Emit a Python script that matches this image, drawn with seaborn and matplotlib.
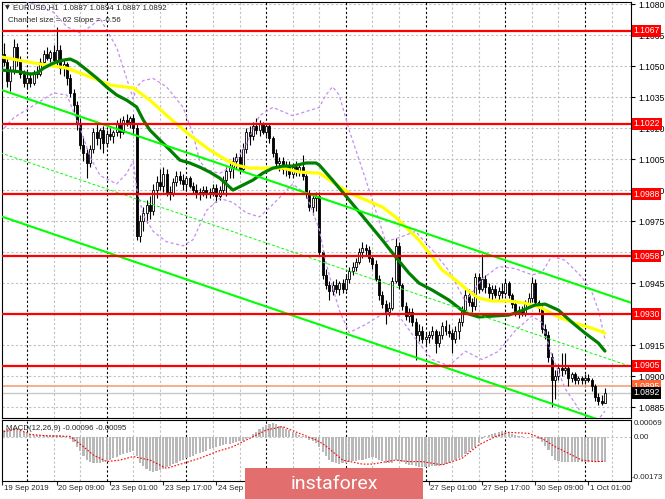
import numpy as np
import matplotlib
matplotlib.use('Agg')
import matplotlib.pyplot as plt
from matplotlib.patches import Rectangle
import seaborn as sns

# EURUSD H1 candles, bar 0 = 19 Sep 16:00
opens = [
    1.1052, 1.1056, 1.1052, 1.1043, 1.1048, 1.1059, 1.1053, 1.1046, 1.1042, 1.1044,
    1.1042, 1.1047, 1.1046, 1.1052, 1.1056, 1.1054, 1.1057, 1.1053, 1.1058, 1.1049,
    1.1051, 1.1044, 1.1037, 1.1031, 1.1022, 1.1012, 1.1008, 1.1003, 1.1010, 1.1018,
    1.1015, 1.1019, 1.1013, 1.1017, 1.1016, 1.1018, 1.1022, 1.1018, 1.1024, 1.1023,
    1.1025, 1.1020, 1.0968, 1.0975, 1.0979, 1.0983, 1.0980, 1.0990, 1.0994, 1.0992,
    1.0998, 1.0989, 1.0988, 1.0994, 1.0997, 1.0995, 1.0993, 1.0996, 1.0992, 1.0990,
    1.0988, 1.0989, 1.0990, 1.0988, 1.0989, 1.0991, 1.0987, 1.0990, 1.0995, 1.0999,
    1.1001, 1.1004, 1.1006, 1.1000, 1.1010, 1.1018, 1.1016, 1.1021, 1.1019, 1.1022,
    1.1018, 1.1021, 1.1015, 1.1008, 1.1003, 1.1004, 1.1000, 1.1002, 1.0998, 1.1001,
    1.0999, 1.1001, 1.0997, 1.0988, 1.0982, 1.0986, 1.0987, 1.0960, 1.0949, 1.0944,
    1.0941, 1.0944, 1.0942, 1.0945, 1.0942, 1.0947, 1.0951, 1.0953, 1.0955, 1.0960,
    1.0962, 1.0961, 1.0957, 1.0954, 1.0947, 1.0939, 1.0935, 1.0931, 1.0933, 1.0946,
    1.0963, 1.0944, 1.0934, 1.0929, 1.0931, 1.0926, 1.0920, 1.0922, 1.0918, 1.0919,
    1.0920, 1.0922, 1.0916, 1.0920, 1.0924, 1.0922, 1.0921, 1.0918, 1.0922, 1.0926,
    1.0932, 1.0939, 1.0936, 1.0934, 1.0948, 1.0942, 1.0947, 1.0943, 1.0940, 1.0942,
    1.0939, 1.0941, 1.0940, 1.0945, 1.0939, 1.0935, 1.0931, 1.0932, 1.0930, 1.0935,
    1.0938, 1.0945, 1.0936, 1.0933, 1.0923, 1.0920, 1.0909, 1.0898, 1.0900, 1.0904,
    1.0903, 1.0904, 1.0899, 1.0901, 1.0898, 1.0899, 1.0898, 1.0899, 1.0898, 1.0895,
    1.0890, 1.0888, 1.0887]
highs = [
    1.1058, 1.1061, 1.1054, 1.1050, 1.1063, 1.1061, 1.1055, 1.1048, 1.1046, 1.1047,
    1.1048, 1.1050, 1.1054, 1.1058, 1.1059, 1.1058, 1.1060, 1.1069, 1.1060, 1.1053,
    1.1052, 1.1046, 1.1039, 1.1033, 1.1025, 1.1016, 1.1010, 1.1012, 1.1020, 1.1022,
    1.1020, 1.1021, 1.1019, 1.1020, 1.1019, 1.1024, 1.1025, 1.1026, 1.1027, 1.1026,
    1.1027, 1.1022, 1.0978, 1.0982, 1.0985, 1.0987, 1.0993, 1.0997, 1.1000, 1.1001,
    1.1000, 1.0992, 1.0996, 1.0999, 1.0999, 1.0998, 1.0997, 1.0997, 1.0994, 1.0993,
    1.0991, 1.0992, 1.0992, 1.0991, 1.0993, 1.0993, 1.0992, 1.0997, 1.1001, 1.1003,
    1.1006, 1.1008, 1.1010, 1.1013, 1.1020, 1.1021, 1.1023, 1.1025, 1.1024, 1.1023,
    1.1022, 1.1022, 1.1016, 1.1010, 1.1006, 1.1006, 1.1004, 1.1004, 1.1003, 1.1004,
    1.1003, 1.1007, 1.0998, 1.0990, 1.0988, 1.0989, 1.0989, 1.0961, 1.0952, 1.0946,
    1.0946, 1.0947, 1.0946, 1.0947, 1.0949, 1.0953, 1.0955, 1.0957, 1.0962, 1.0965,
    1.0964, 1.0963, 1.0958, 1.0956, 1.0949, 1.0941, 1.0937, 1.0936, 1.0948, 1.0967,
    1.0965, 1.0945, 1.0936, 1.0933, 1.0933, 1.0928, 1.0925, 1.0924, 1.0921, 1.0922,
    1.0924, 1.0923, 1.0922, 1.0926, 1.0927, 1.0925, 1.0923, 1.0924, 1.0928, 1.0934,
    1.0942, 1.0942, 1.0938, 1.0950, 1.0950, 1.0959, 1.0949, 1.0945, 1.0944, 1.0944,
    1.0943, 1.0945, 1.0947, 1.0946, 1.0940, 1.0937, 1.0934, 1.0934, 1.0937, 1.0940,
    1.0948, 1.0947, 1.0937, 1.0934, 1.0925, 1.0922, 1.0911, 1.0903, 1.0906, 1.0911,
    1.0911, 1.0905, 1.0902, 1.0902, 1.0900, 1.0900, 1.0901, 1.0901, 1.0899, 1.0896,
    1.0892, 1.0891, 1.0894]
lows = [
    1.1048, 1.1050, 1.1040, 1.1038, 1.1046, 1.1050, 1.1044, 1.1040, 1.1039, 1.1040,
    1.1041, 1.1044, 1.1045, 1.1050, 1.1053, 1.1052, 1.1051, 1.1050, 1.1046, 1.1045,
    1.1041, 1.1035, 1.1028, 1.1019, 1.1010, 1.1004, 1.0996, 1.1001, 1.1008, 1.1012,
    1.1010, 1.1008, 1.1011, 1.1014, 1.1013, 1.1016, 1.1015, 1.1017, 1.1021, 1.1020,
    1.1017, 1.0966, 1.0965, 1.0970, 1.0974, 1.0976, 1.0978, 1.0986, 1.0990, 1.0989,
    1.0987, 1.0985, 1.0987, 1.0992, 1.0993, 1.0990, 1.0990, 1.0991, 1.0988, 1.0986,
    1.0985, 1.0987, 1.0986, 1.0986, 1.0987, 1.0984, 1.0985, 1.0988, 1.0987, 1.0996,
    1.0996, 1.1000, 1.0998, 1.0999, 1.1008, 1.1012, 1.1014, 1.1017, 1.1016, 1.1017,
    1.1016, 1.1013, 1.1006, 1.1001, 1.0999, 1.0998, 1.0997, 1.0996, 1.0996, 1.0997,
    1.0997, 1.0995, 1.0986, 1.0980, 1.0978, 1.0980, 1.0958, 1.0947, 1.0942, 1.0937,
    1.0939, 1.0940, 1.0939, 1.0940, 1.0941, 1.0945, 1.0949, 1.0951, 1.0954, 1.0957,
    1.0958, 1.0955, 1.0952, 1.0946, 1.0937, 1.0933, 1.0925, 1.0929, 1.0932, 1.0945,
    1.0942, 1.0932, 1.0927, 1.0926, 1.0924, 1.0908, 1.0917, 1.0916, 1.0915, 1.0916,
    1.0918, 1.0911, 1.0914, 1.0918, 1.0920, 1.0919, 1.0911, 1.0916, 1.0918, 1.0924,
    1.0930, 1.0934, 1.0931, 1.0932, 1.0940, 1.0941, 1.0940, 1.0938, 1.0937, 1.0938,
    1.0937, 1.0938, 1.0939, 1.0938, 1.0933, 1.0929, 1.0928, 1.0929, 1.0929, 1.0933,
    1.0936, 1.0934, 1.0931, 1.0921, 1.0918, 1.0907, 1.0885, 1.0889, 1.0898, 1.0900,
    1.0901, 1.0895, 1.0897, 1.0896, 1.0896, 1.0896, 1.0896, 1.0897, 1.0893, 1.0888,
    1.0886, 1.0886, 1.0887]
closes = [
    1.1056, 1.1052, 1.1043, 1.1048, 1.1059, 1.1053, 1.1046, 1.1042, 1.1044, 1.1042,
    1.1047, 1.1046, 1.1052, 1.1056, 1.1054, 1.1057, 1.1053, 1.1058, 1.1049, 1.1051,
    1.1044, 1.1037, 1.1031, 1.1022, 1.1012, 1.1008, 1.1003, 1.1010, 1.1018, 1.1015,
    1.1019, 1.1013, 1.1017, 1.1016, 1.1018, 1.1022, 1.1018, 1.1024, 1.1023, 1.1025,
    1.1020, 1.0968, 1.0975, 1.0979, 1.0983, 1.0980, 1.0990, 1.0994, 1.0992, 1.0998,
    1.0989, 1.0988, 1.0994, 1.0997, 1.0995, 1.0993, 1.0996, 1.0992, 1.0990, 1.0988,
    1.0989, 1.0990, 1.0988, 1.0989, 1.0991, 1.0987, 1.0990, 1.0995, 1.0999, 1.1001,
    1.1004, 1.1006, 1.1000, 1.1010, 1.1018, 1.1016, 1.1021, 1.1019, 1.1022, 1.1018,
    1.1021, 1.1015, 1.1008, 1.1003, 1.1004, 1.1000, 1.1002, 1.0998, 1.1001, 1.0999,
    1.1001, 1.0997, 1.0988, 1.0982, 1.0986, 1.0987, 1.0960, 1.0949, 1.0944, 1.0941,
    1.0944, 1.0942, 1.0945, 1.0942, 1.0947, 1.0951, 1.0953, 1.0955, 1.0960, 1.0962,
    1.0961, 1.0957, 1.0954, 1.0947, 1.0939, 1.0935, 1.0931, 1.0933, 1.0946, 1.0963,
    1.0944, 1.0934, 1.0929, 1.0931, 1.0926, 1.0920, 1.0922, 1.0918, 1.0919, 1.0920,
    1.0922, 1.0916, 1.0920, 1.0924, 1.0922, 1.0921, 1.0918, 1.0922, 1.0926, 1.0932,
    1.0939, 1.0936, 1.0934, 1.0948, 1.0942, 1.0947, 1.0943, 1.0940, 1.0942, 1.0939,
    1.0941, 1.0940, 1.0945, 1.0939, 1.0935, 1.0931, 1.0932, 1.0930, 1.0935, 1.0938,
    1.0945, 1.0936, 1.0933, 1.0923, 1.0920, 1.0909, 1.0898, 1.0900, 1.0904, 1.0903,
    1.0904, 1.0899, 1.0901, 1.0898, 1.0899, 1.0898, 1.0899, 1.0898, 1.0895, 1.0890,
    1.0888, 1.0887, 1.0892]

# moving averages (bar index, price)
ma_green_x = [0, 3, 6, 9, 11, 13, 16, 19, 21, 23, 26, 29, 32, 35, 38, 41, 43, 45, 48,
              51, 54, 57, 60, 63, 66, 70, 73, 76, 79, 82, 85, 88, 92, 95, 96, 100, 105,
              110, 115, 119, 123, 126, 130, 135, 140, 144, 148, 153, 156, 161, 164, 168,
              172, 176, 180, 182]
ma_green = [1.10481, 1.10477, 1.10472, 1.10461, 1.10466, 1.10490, 1.10515, 1.10529,
            1.10534, 1.10519, 1.10481, 1.10442, 1.10398, 1.10360, 1.10335, 1.10302,
            1.10239, 1.10190, 1.10142, 1.10094, 1.10045, 1.10031, 1.10011, 1.09987,
            1.09958, 1.09900, 1.09924, 1.09948, 1.09982, 1.10006, 1.10016, 1.10016,
            1.10031, 1.10031, 1.10021, 1.09948, 1.09852, 1.09755, 1.09658, 1.09576,
            1.09498, 1.09450, 1.09416, 1.09368, 1.09305, 1.09286, 1.09290, 1.09295,
            1.09310, 1.09344, 1.09348, 1.09319, 1.09261, 1.09208, 1.09160, 1.09121]
ma_yellow_x = [0, 10, 20, 27, 33, 40, 45, 51, 57, 63, 68, 71, 75, 85, 90, 96, 100, 105,
               110, 115, 119, 123, 126, 130, 133, 137, 141, 144, 148, 153, 158, 163,
               168, 173, 178, 182]
ma_yellow = [1.10545, 1.10515, 1.10490, 1.10448, 1.10408, 1.10394, 1.10335, 1.10248,
             1.10166, 1.10094, 1.10045, 1.10021, 1.10006, 1.10006, 1.09987, 1.09982,
             1.09939, 1.09886, 1.09852, 1.09818, 1.09769, 1.09706, 1.09658, 1.09576,
             1.09513, 1.09465, 1.09411, 1.09377, 1.09363, 1.09363, 1.09353, 1.09329,
             1.09286, 1.09256, 1.09232, 1.09208]

# bollinger bands
bb_x = [0, 4, 8, 12, 16, 20, 24, 27, 30, 35, 38, 40, 41, 43, 46, 50, 55, 58, 60, 62,
        66, 70, 74, 78, 82, 88, 92, 96, 98, 100, 102, 105, 110, 116, 120, 125, 130,
        135, 140, 145, 150, 155, 160, 163, 166, 170, 175, 178, 180, 182]
bb_upper = [1.1088, 1.1084, 1.1081, 1.1079, 1.1076, 1.1069, 1.1066, 1.1069, 1.1073,
            1.1059, 1.1044, 1.1034, 1.1040, 1.1043, 1.1044, 1.1040, 1.1030, 1.1017,
            1.1004, 1.1000, 1.0998, 1.1002, 1.1012, 1.1026, 1.1030, 1.1026, 1.1028,
            1.1030, 1.1036, 1.1040, 1.1036, 1.1019, 1.0995, 1.0965, 1.0967, 1.0970,
            1.0961, 1.0951, 1.0936, 1.0947, 1.0953, 1.0952, 1.0949, 1.0950, 1.0958,
            1.0956, 1.0948, 1.0941, 1.0932, 1.0918]
bb_lower = [1.1018, 1.1025, 1.1029, 1.1033, 1.1037, 1.1036, 1.1020, 1.1006, 1.0997,
            1.0993, 1.0998, 1.1004, 1.0991, 1.0978, 1.0970, 1.0965, 1.0963, 1.0966,
            1.0973, 1.0980, 1.0986, 1.0984, 1.0979, 1.0977, 1.0983, 1.0993, 1.0988,
            1.0971, 1.0955, 1.0943, 1.0932, 1.0921, 1.0925, 1.0931, 1.0929, 1.0918,
            1.0908, 1.0905, 1.0912, 1.0908, 1.0912, 1.0922, 1.0929, 1.0926, 1.0910,
            1.0894, 1.0882, 1.0879, 1.0879, 1.0883]

# regression channel, values at both ends
chan_x = [0, 190]
chan_upper = [1.10386, 1.09354]
chan_mid = [1.10080, 1.09045]
chan_lower = [1.09774, 1.08735]

levels = [1.1067, 1.1022, 1.0988, 1.0958, 1.0930, 1.0905]
pivot = 1.0895
bid = 1.0892
# scale labels; 1.0930 sits fully under its level box, so it is not printed
price_ticks = [1.1080, 1.1065, 1.1050, 1.1035, 1.1020, 1.1005, 1.0990, 1.0975,
               1.0960, 1.0945, 1.0930, 1.0915, 1.0900, 1.0885]
hidden_ticks = [1.0930]

# MACD(12,26,9) main histogram, in 1e-5
macd_hist = [
    28, 31, 33, 34, 33, 30, 25, 20, 15,
    12, 10, 8, 8, 9, 10, 10, 10, 10, 8, 5, 2,
    -5, -20, -37, -55, -72, -88, -98, -103, -103, -100,
    -97, -93, -88, -82, -76, -71, -66, -61, -57, -55,
    -75, -100, -115, -125, -132, -136, -135, -130,
    -125, -118, -112, -106, -100, -94, -88, -82,
    -77, -72, -67, -63, -58, -53, -48, -42, -37, -34, -31, -28, -26, -24, -20, -16, -13, -8,
    0, 12, 22, 32, 42, 50, 55, 56, 52,
    46, 40, 34, 28, 22, 16, 10,
    4, -2, -10, -16, -22, -40, -58, -75, -90,
    -98, -102, -104,
    -103, -100, -97, -95, -93, -91, -89, -85, -80, -78,
    -82, -88, -95, -100, -103, -100, -90,
    -92, -98, -104, -108, -110, -114, -116, -116, -116,
    -116, -115, -115, -113, -110,
    -105, -100, -95, -88, -82, -76, -66, -56, -46, -37, -22,
    -8, 4, 10, 14, 18, 22, 24, 22, 18,
    14, 10, 6, 4, 3, 3, 5, 2,
    -8, -20, -35, -50, -72, -88,
    -95, -97, -98, -99, -99, -98, -98, -97, -97, -96, -96, -97, -97, -97, -96]
sig_x = [0, 5, 9, 14, 21, 25, 28, 32, 36, 40, 45, 50, 55, 60, 65, 70, 75, 80, 85, 90,
         95, 97, 99, 103, 109, 112, 119, 123, 127, 133, 139, 144, 149, 153, 159, 163,
         167, 171, 175, 179, 182]
sig = [20, 33, 12, 6, 4, -37, -70, -96, -90, -76, -90, -123, -103, -83, -57, -37, -4,
       29, 43, 16, -10, -25, -45, -90, -106, -106, -90, -96, -96, -109, -83, -30, 3,
       20, 16, -4, -37, -63, -90, -96, -95]

# time scale (labels under the broker logo are not visible and left out)
time_idx = [0.6, 17, 33, 49, 65, 129, 145, 161, 177]
time_labels = ['19 Sep 2019', '20 Sep 09:00', '23 Sep 01:00', '23 Sep 17:00',
               '24 Sep 09:00', '27 Sep 01:00', '27 Sep 17:00', '30 Sep 09:00',
               '1 Oct 01:00']
day_starts = [8, 32, 56, 80, 104, 128, 152, 176]

sns.set_style('white')
plt.rcParams['font.family'] = ['Liberation Sans', 'DejaVu Sans']
FS = 5.7     # header / time labels
FSR = 6.2    # right price scale

W, H = 665, 499
fig = plt.figure(figsize=(W / 100, H / 100), dpi=100)


def px_box(x0, y0, x1, y1):
    return [x0 / W, 1 - y1 / H, (x1 - x0) / W, (y1 - y0) / H]


ax = fig.add_axes(px_box(2, 2, 631, 418))
am = fig.add_axes(px_box(2, 420, 631, 481))
XL = (0.47, 189.85)
GRID = '#c0c0c0'
DASH = (0, (2, 2))

# grid and period separators
for a in (ax, am):
    for v in range(8, 190, 8):
        if v in day_starts:
            a.axvline(v, color='black', lw=0.8, ls=DASH, zorder=0.6)
        else:
            a.axvline(v, color=GRID, lw=0.8, ls=DASH, zorder=0.5)
for p in price_ticks:
    ax.axhline(p, color=GRID, lw=0.8, ls=DASH, zorder=0.5)
am.axhline(0, color=GRID, lw=0.8, ls=DASH, zorder=0.5)

ax.axhline(pivot, color='#f5a07c', lw=1.2, zorder=1.5)
ax.axhline(bid, color='#c8c8c8', lw=1.0, zorder=1.5)

# candles
o, hh, ll, c = map(np.array, (opens, highs, lows, closes))
idx = np.arange(len(c))
up = c >= o
body = np.maximum(np.abs(c - o), 0.00002)
ax.vlines(idx, ll, hh, color='black', lw=0.8, zorder=2)
ax.bar(idx[up], body[up], bottom=o[up], width=0.6, color='white',
       edgecolor='black', lw=0.6, zorder=3)
ax.bar(idx[~up], body[~up], bottom=c[~up], width=0.6, color='black',
       edgecolor='black', lw=0.6, zorder=3)

# indicators
line_kw = dict(ax=ax, estimator=None, sort=False, legend=False)
for band in (bb_upper, bb_lower):
    sns.lineplot(x=bb_x, y=band, color='#c48ef0', lw=0.9, linestyle=(0, (2.5, 2)),
                 zorder=4, **line_kw)
sns.lineplot(x=ma_yellow_x, y=ma_yellow, color='#ffff00', lw=2.3, zorder=5, **line_kw)
sns.lineplot(x=ma_green_x, y=ma_green, color='#008000', lw=2.3, zorder=5, **line_kw)

sns.lineplot(x=chan_x, y=chan_upper, color='#00ff00', lw=1.5, zorder=6, **line_kw)
sns.lineplot(x=chan_x, y=chan_mid, color='#00ff00', lw=0.7, linestyle=(0, (3, 2)),
             zorder=6, **line_kw)
sns.lineplot(x=chan_x, y=chan_lower, color='#00ff00', lw=1.5, zorder=6, **line_kw)

for lv in levels:
    ax.axhline(lv, color='#ff0000', lw=1.6, zorder=7)

# MACD panel
am.bar(idx, np.array(macd_hist) * 1e-5, width=0.66, color='#b8b8b8', lw=0, zorder=2)
sns.lineplot(x=sig_x, y=np.array(sig) * 1e-5, ax=am, color='#ff0000', lw=0.8,
             linestyle=(0, (1.5, 1.5)), estimator=None, sort=False, legend=False, zorder=3)

# axes
ax.set_xlim(XL)
am.set_xlim(XL)
ax.set_ylim(1.08797, 1.10810)
am.set_ylim(-0.00173, 0.00069)
ax.yaxis.tick_right()
ax.set_yticks(price_ticks)
ax.set_yticklabels(['' if p in hidden_ticks else f'{p:.4f}' for p in price_ticks])
ax.tick_params(axis='y', right=True, left=False, length=3, width=0.8, pad=2,
               labelsize=FSR, colors='black')
ax.tick_params(axis='x', bottom=False, labelbottom=False)
am.set_yticks([])
am.set_xticks(time_idx)
am.tick_params(axis='x', bottom=True, length=3, width=0.8, labelbottom=False)
for a in (ax, am):
    a.set_xlabel('')
    a.set_ylabel('')
    for s in a.spines.values():
        s.set_color('black')
        s.set_linewidth(0.8)

for t, lab in zip(time_idx, time_labels):
    am.annotate(lab, xy=(t, 0), xycoords=('data', 'axes fraction'), xytext=(1, -3.2),
                textcoords='offset points', ha='left', va='top', fontsize=FS)

# price boxes on the right scale
tr = ax.get_yaxis_transform()
boxes = [(lv, '#ff0000') for lv in levels] + [(pivot, '#ff6633'), (bid, '#000000')]
for lv, col in boxes:
    ax.text(1.004, lv, f'{lv:.4f}', transform=tr, fontsize=FSR, color='white',
            va='center', ha='left', zorder=10,
            bbox=dict(boxstyle='square,pad=0.18', fc=col, ec='none'))

# MACD scale labels (slightly smaller so the minimum fits inside the picture)
trm = am.get_yaxis_transform()
FSM = 5.8
am.text(1.004, 0.00069, '0.00069', transform=trm, fontsize=FSM, va='top', ha='left')
am.text(1.004, 0.0, '0.00', transform=trm, fontsize=FSM, va='center', ha='left')
am.text(1.001, -0.00173, '-0.00173', transform=trm, fontsize=FSM, va='bottom', ha='left')

# header texts
fig.text(5 / W, 1 - 8 / H, '\u25bc', fontsize=4.5, va='center', ha='left',
         family=['DejaVu Sans'])
fig.text(13 / W, 1 - 8 / H, 'EURUSD,H1  1.0887 1.0894 1.0887 1.0892', fontsize=FS,
         va='center', ha='left')
fig.text(8 / W, 1 - 20 / H, 'Channel size = 62 Slope = -0.56', fontsize=FS,
         va='center', ha='left')
fig.text(6 / W, 1 - 428 / H, 'MACD(12,26,9) -0.00096 -0.00095', fontsize=FS,
         va='center', ha='left')

# broker logo
fig.patches.append(Rectangle((245 / W, 0), 178 / W, 31 / H, transform=fig.transFigure,
                             fc='#e26e6e', ec='none', zorder=20))
fig.text(334 / W, 1 - 484 / H, 'instaforex', color='white', fontsize=14,
         family=['Roboto', 'DejaVu Sans'], ha='center', va='center', zorder=21)

fig.savefig('out.png', dpi=100)
